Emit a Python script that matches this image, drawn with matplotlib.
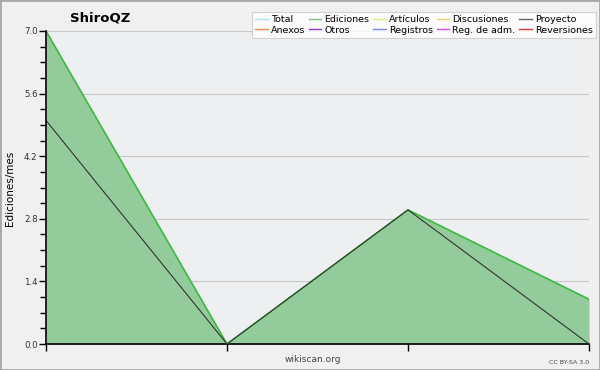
import matplotlib
matplotlib.use("Agg")
import matplotlib.pyplot as plt
from matplotlib.lines import Line2D
from matplotlib.patches import Rectangle

# Data
x_idx = [0, 1, 2, 3]
ediciones = [7.0, 0.0, 3.0, 1.0]
proyecto = [5.0, 0.0, 3.0, 0.0]
y_ticks = [0.0, 1.4, 2.8, 4.2, 5.6, 7.0]
legend_labels = ["Total", "Ediciones", "Artículos", "Discusiones", "Proyecto",
                 "Anexos", "Otros", "Registros", "Reg. de adm.", "Reversiones"]
legend_colors = ["#a8e4e0", "#7cc47f", "#d4ee7a", "#f8d070", "#666666",
                 "#f08a4a", "#8a3ad8", "#7a8af0", "#d050e0", "#e83838"]

fig = plt.figure(figsize=(6, 3.7), dpi=100, facecolor="#f0f0f0")
fig.patches.append(Rectangle((0, 0), 1, 1, transform=fig.transFigure,
                             fill=False, edgecolor="#a8a8a8", linewidth=2))
ax = fig.add_axes([46/600, 1-344/370, (589-46)/600, (344-31)/370])
ax.set_facecolor("#eeeff1")

ax.fill_between(x_idx, ediciones, 0, color="#93cc9a", linewidth=0, zorder=2)
ax.plot(x_idx, ediciones, color="#3cb843", linewidth=1.2, zorder=3)
ax.plot(x_idx, proyecto, color="#333333", linewidth=0.8, zorder=4)

ax.set_xlim(0, 3)
ax.set_ylim(0, 7.0)
ax.set_yticks(y_ticks)
ax.set_yticklabels([f"{v:.1f}" for v in y_ticks], fontsize=6.2, color="#333333")
ax.set_yticks([i * 0.35 for i in range(21)], minor=True)
ax.set_xticks(x_idx)
ax.set_xticklabels([])
ax.tick_params(axis="both", which="major", length=5, width=1, direction="out", pad=1)
ax.tick_params(axis="y", which="minor", length=4, width=1)
ax.grid(axis="y", color="#c8c8c8", linewidth=0.8, zorder=1)
ax.set_axisbelow(True)
for s in ["top", "right"]:
    ax.spines[s].set_visible(False)
ax.spines["left"].set_linewidth(1.2)
ax.spines["bottom"].set_linewidth(1.2)
ax.spines["left"].set_zorder(5)

fig.text(100/600, 1-18/370, "ShiroQZ", fontsize=9.5, fontweight="bold",
         ha="center", va="center")
fig.text(10/600, 1-188/370, "Ediciones/mes", fontsize=7.5, rotation=90,
         ha="center", va="center")
fig.text(313/600, 1-360/370, "wikiscan.org", fontsize=6.5, color="#444444",
         ha="center", va="center")
fig.text(589/600, 1-362/370, "CC BY-SA 3.0", fontsize=4.5, color="#444444",
         ha="right", va="center")

# legend (column-major ordering for 2 rows x 5 columns)
order = [0, 5, 1, 6, 2, 7, 3, 8, 4, 9]
handles = [Line2D([0], [0], color=legend_colors[i], linewidth=1) for i in order]
labels = [legend_labels[i] for i in order]
leg = fig.legend(handles, labels, ncol=5, fontsize=6.8,
                 loc="upper right", bbox_to_anchor=(596/600, 1-12/370),
                 frameon=True, fancybox=False, handlelength=1.3,
                 handletextpad=0.35, columnspacing=0.4, labelspacing=0.15,
                 borderpad=0.35, borderaxespad=0)
leg.get_frame().set_facecolor("white")
leg.get_frame().set_edgecolor("#c8c8c8")
leg.get_frame().set_linewidth(0.8)

fig.savefig("out.png", dpi=100, facecolor=fig.get_facecolor())
